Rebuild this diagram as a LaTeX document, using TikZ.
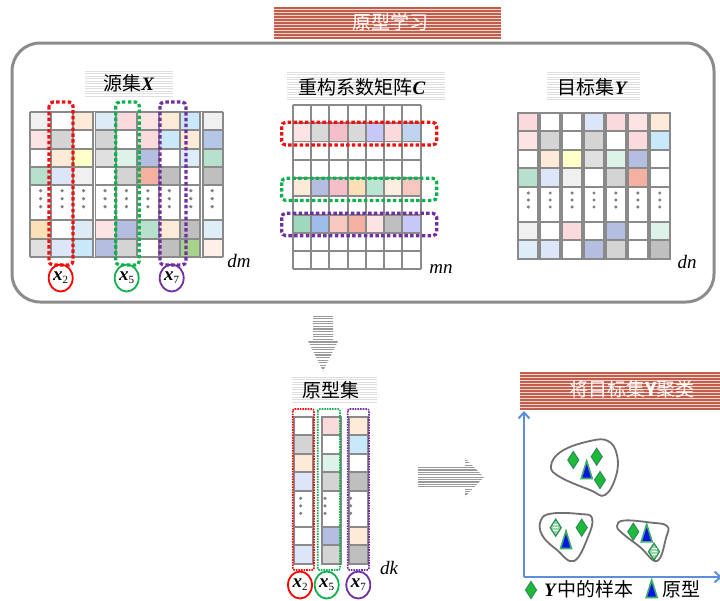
\documentclass[tikz,border=0pt]{standalone}
\usepackage{fontspec}
\setmainfont{Liberation Serif}
\newfontfamily\cjk{Noto Sans CJK SC}
\usetikzlibrary{arrows.meta,shapes.geometric}

\definecolor{qgA}{HTML}{F0F0F0}
\definecolor{qgB}{HTML}{D4D4D4}
\definecolor{qgC}{HTML}{BFBFBF}
\definecolor{qgD}{HTML}{E0E0E0}
\definecolor{qpe}{HTML}{FDEBD8}
\definecolor{qlb}{HTML}{DDEBF7}
\definecolor{qlc}{HTML}{DDEEF9}
\definecolor{qpk}{HTML}{FADADD}
\definecolor{qpl}{HTML}{FCE4E4}
\definecolor{qsk}{HTML}{C9E8FA}
\definecolor{qbl}{HTML}{B4C7E7}
\definecolor{qye}{HTML}{FFFFC8}
\definecolor{qmi}{HTML}{DDF2E8}
\definecolor{qla}{HTML}{B4BEE0}
\definecolor{qgr}{HTML}{B7E1CD}
\definecolor{qsa}{HTML}{F4B0A0}
\definecolor{qor}{HTML}{FCE0B8}
\definecolor{qlg}{HTML}{A9D18E}
\definecolor{qlv}{HTML}{DCE6F8}
\definecolor{qpf}{HTML}{FDF0E8}
\definecolor{qrp}{HTML}{F4BFC8}
\definecolor{qvi}{HTML}{C8C8F8}
\definecolor{qcb}{HTML}{C0D4F0}
\definecolor{qgg}{HTML}{D9D9D9}
\definecolor{qmg}{HTML}{B7E6D2}
\definecolor{qpg}{HTML}{FDEFE0}
\definecolor{qsr}{HTML}{F8C8C0}
\definecolor{qtg}{HTML}{9ED9BE}
\definecolor{qbb}{HTML}{9EBDEA}
\definecolor{qline}{HTML}{8A8A8A}
\definecolor{qdot}{HTML}{808080}
\definecolor{qframe}{HTML}{8C8C8C}
\definecolor{qred}{HTML}{C45E4C}
\definecolor{qbanbg}{HTML}{F4D8D0}
\definecolor{qarrow}{HTML}{9A9A9A}
\definecolor{qaxis}{HTML}{5B8FDB}
\definecolor{qclus}{HTML}{707070}
\definecolor{qgreen}{HTML}{1DBA3A}
\definecolor{qdg}{HTML}{2E8B57}
\definecolor{qblue}{HTML}{0A14E6}
\definecolor{qtb}{HTML}{3DAE6A}
\definecolor{qlgreen}{HTML}{8FDCA0}
\definecolor{qboxred}{HTML}{F01010}
\definecolor{qboxgreen}{HTML}{10B050}
\definecolor{qboxpurple}{HTML}{7030A0}

\newcommand{\hstripes}[6]{%
  \pgfmathsetmacro{\ysecond}{#2+#6}%
  \foreach \yy in {#2,\ysecond,...,#4}{\draw[#5] (#1,\yy) -- (#3,\yy);}%
}

\begin{document}
\begin{tikzpicture}[x=1pt,y=-1pt,
  gridl/.style={qline,line width=1.9pt},
  thickdot/.style={line width=3.2pt,dash pattern=on 3.5pt off 2.3pt,rounded corners=4pt},
  thindot/.style={line width=1.6pt,densely dotted,rounded corners=2pt},
  circ/.style={ellipse,draw,line width=1.8pt,minimum width=24pt,minimum height=27pt,inner sep=0pt,font=\fontsize{19}{19}\selectfont},
  lbl/.style={font=\fontsize{19}{21}\selectfont,inner sep=0pt},
  dimtext/.style={font=\fontsize{19}{21}\selectfont\itshape,inner sep=0pt},
  bantext/.style={font=\cjk\fontsize{19}{21}\selectfont,text=white,inner sep=0pt},
  axis/.style={qaxis,line width=2pt,-{Straight Barb[length=6pt,width=11pt,line width=2pt]}},
  clus/.style={qclus,line width=1.8pt},
  gdia/.pic={\draw[qdg,fill=qgreen,line width=1pt] (0,-8.5) -- (5.5,0) -- (0,8.5) -- (-5.5,0) -- cycle;},
  sdia/.pic={\draw[qdg,fill=qlgreen,line width=1.2pt] (0,-8.5) -- (5.5,0) -- (0,8.5) -- (-5.5,0) -- cycle;
             \foreach \k in {-3,0,3}{\draw[white,line width=1pt] (-2.5,\k) -- (2.5,\k);}},
  ptri/.pic={\draw[qtb,fill=qblue,line width=1.6pt,line join=miter] (-5.5,8.5) -- (0,-9) -- (5.5,8.5) -- cycle;}
]
\useasboundingbox (0,0) rectangle (720,600);
\fill[white] (0,0) rectangle (720,600);

% ---------- big frame ----------
\draw[line width=3pt,qframe,rounded corners=28pt] (12,43) rectangle (714,302);

% ---------- top banner ----------
\fill[qbanbg] (274,7) rectangle (501,39);
\hstripes{274}{8}{501}{39}{qred,line width=1.3pt}{3}
\node[bantext] (ban1) at (390,22) {原型学习};

% ---------- label backgrounds ----------
\hstripes{85}{71}{173}{98}{gray!25,line width=0.6pt}{2.5}
\hstripes{287}{72}{445}{100}{gray!25,line width=0.6pt}{2.5}
\hstripes{547}{72}{640}{100}{gray!25,line width=0.6pt}{2.5}
\hstripes{292}{377}{377}{403}{gray!25,line width=0.6pt}{2.5}

\node[lbl] (labX) at (129,83) {{\cjk 源集}\textbf{\textit{X}}};
\node[lbl] (labC) at (362,87) {{\cjk 重构系数矩阵}\textbf{\textit{C}}};
\node[lbl] (labY) at (593,87) {{\cjk 目标集}\textbf{\textit{Y}}};
\node[lbl] (labP) at (331,390) {{\cjk 原型集}};

% ---------- source X ----------
\foreach \rowc/\yt in {
{qgA,white,qpe,qlb,qpk,qpl,qpe,qsk,qgA}/112,
{qpl,qgB,white,qgB,white,qpk,qsk,qpe,qbl}/130.3,
{white,qpe,qye,qgD,qmi,qla,white,qlc,qgr}/148.7,
{qgr,qlv,qgA,white,qgB,qsa,qgC,white,qgC}/167,
{qor,white,qlb,qpl,qla,qgr,qpe,qgC,qlc}/220.3,
{qgD,qlv,qsk,qla,qgB,white,qgC,qlg,qpf}/238.7}
{\foreach \cc [count=\i from 0] in \rowc {\fill[\cc] ({30+\i*21.44},\yt) rectangle ++(21.44,18.3);}}
\foreach \i in {0,...,8}{\foreach \d in {-8,0,8}{\fill[qdot] ({40.7+\i*21.44},{198.7+\d}) circle (1.8);}}
\foreach \yy in {112,130.3,148.7,167,185.3,220.3,238.7,257}{\draw[gridl] (30,\yy) -- (223,\yy);}
\foreach \i in {0,...,9}{\draw[gridl] ({30+\i*21.44},112) -- ({30+\i*21.44},257);}
\foreach \i in {3,8}{\draw[qline,line width=4.2pt] ({30+\i*21.44},112) -- ({30+\i*21.44},257);
  \draw[white,line width=1.2pt] ({30+\i*21.44},112) -- ({30+\i*21.44},257);}

\draw[thickdot,qboxred] (49,102) rectangle (73,265);
\draw[thickdot,qboxgreen] (115.7,102) rectangle (139.3,265);
\draw[thickdot,qboxpurple] (160,102) rectangle (186,265);

\node[circ,draw=red] (sx2) at (60.7,278) {\textbf{\textit{x}}\raisebox{-3pt}{\fontsize{11}{11}\selectfont 2}};
\node[circ,draw=qboxgreen] (sx5) at (126.7,278) {\textbf{\textit{x}}\raisebox{-3pt}{\fontsize{11}{11}\selectfont 5}};
\node[circ,draw=qboxpurple] (sx7) at (171.7,278) {\textbf{\textit{x}}\raisebox{-3pt}{\fontsize{11}{11}\selectfont 7}};
\node[dimtext] (dm) at (239,261) {dm};

% ---------- matrix C ----------
\foreach \rowc/\yt in {
{qpl,qgg,qrp,qgg,qvi,qpk,qcb}/123.26,
{qpe,qla,qrp,qor,qmg,qpg,qsr}/178.04,
{qtg,qbb,qsr,qsa,qpl,qgC,qvi}/214.56}
{\foreach \cc [count=\i from 0] in \rowc {\fill[\cc] ({292.7+\i*18.29},\yt) rectangle ++(18.29,18.26);}}
\foreach \j in {0,...,9}{\draw[gridl] (292.7,{105+\j*18.26}) -- (420.7,{105+\j*18.26});}
\foreach \i in {0,...,7}{\draw[gridl] ({292.7+\i*18.29},105) -- ({292.7+\i*18.29},269.3);}
\draw[thickdot,qboxred] (281.7,122.3) rectangle (436.7,145);
\draw[thickdot,qboxgreen] (281.7,178.3) rectangle (436.7,200.5);
\draw[thickdot,qboxpurple] (281.7,213.3) rectangle (436.7,235.7);
\node[dimtext] (mn) at (441,269) {mn};

% ---------- target Y ----------
\foreach \rowc/\yt in {
{qpk,white,white,qlv,qpk,qpl,qpe}/112.7,
{qpl,qgB,white,qgB,white,qpk,qsk}/131.2,
{white,qpe,qye,qgD,qmi,qla,white}/149.7,
{qgr,qlv,qgA,white,qgB,qsa,white}/168.2,
{qgA,white,qpk,white,qla,white,qmi}/221.7,
{qlc,qlv,white,qla,qgB,white,qgC}/240.2}
{\foreach \cc [count=\i from 0] in \rowc {\fill[\cc] ({518.3+\i*21.9},\yt) rectangle ++(20,18.5);}}
\foreach \i in {0,...,6}{
  \pgfmathsetmacro{\colx}{518.3+\i*21.9}
  \foreach \yy in {131.2,149.7,168.2,186.7,221.7,240.2}{\draw[gridl] (\colx,\yy) -- ++(20,0);}
  \draw[gridl] (\colx,112.7) rectangle ++(20,146);
  \foreach \d in {-7,0,7}{\fill[qdot] ({\colx+10},{200+\d}) circle (1.7);}
}
\node[dimtext] (dn) at (687,262) {dn};

% ---------- arrows ----------
\begin{scope}
\clip (313,316) -- (333,316) -- (333,340) -- (338.5,340) -- (323,371) -- (307.5,340) -- (313,340) -- cycle;
\hstripes{305}{316}{341}{372}{qarrow,line width=1.3pt}{2.6}
\end{scope}
\begin{scope}
\clip (418,467) -- (465,467) -- (465,458) -- (484,477) -- (465,496.7) -- (465,487) -- (418,487) -- cycle;
\hstripes{415}{458}{486}{498}{qarrow,line width=1.2pt}{2.4}
\end{scope}

% ---------- prototypes ----------
\foreach \colx/\dx/\cols in {294/6.7/{white,qgB,qpe,qlv,white,qlv}, 321.7/3.3/{qpk,white,qmi,qgB,qla,qgB}, 349.2/1.5/{qpe,qsk,white,qgC,qpe,qgC}}{
  \foreach \cc [count=\j from 0] in \cols {
    \pgfmathsetmacro{\yt}{{416.7,435.2,453.7,472.2,526.7,545.2}[\j]}
    \fill[\cc] (\colx,\yt) rectangle ++(19,18.5);}
  \foreach \yy in {435.2,453.7,472.2,490.7,526.7,545.2}{\draw[gridl] (\colx,\yy) -- ++(19,0);}
  \draw[gridl] (\colx,416.7) rectangle ++(19,147);
  \foreach \d in {-7.5,0,7.5}{\fill[qdot] ({\colx+\dx},{505.8+\d}) circle (1.7);}
}
\draw[thindot,qboxred] (292.7,409) rectangle (314,570);
\draw[thindot,qboxgreen] (317.7,409) rectangle (340,570);
\draw[thindot,qboxpurple] (347.7,409) rectangle (369,570);
\node[circ,draw=red] (px2) at (300,585) {\textbf{\textit{x}}\raisebox{-3pt}{\fontsize{11}{11}\selectfont 2}};
\node[circ,draw=qboxgreen] (px5) at (326.7,585) {\textbf{\textit{x}}\raisebox{-3pt}{\fontsize{11}{11}\selectfont 5}};
\node[circ,draw=qboxpurple] (px7) at (358.3,585) {\textbf{\textit{x}}\raisebox{-3pt}{\fontsize{11}{11}\selectfont 7}};
\node[dimtext] (dk) at (389,568) {dk};

% ---------- clustering panel ----------
\fill[qbanbg] (520,372) rectangle (720,409);
\hstripes{520}{373}{720}{409}{qred,line width=1.3pt}{3}
\node[bantext] (ban2) at (632,389) {将目标集\textbf{\textit{Y}}聚类};

\coordinate (orig) at (524,577);
\coordinate (ytip) at (524,411);
\coordinate (xtip) at (722,577);
\draw[axis] (orig) -- (ytip);
\draw[axis] (orig) -- (xtip);

\draw[clus] plot[smooth cycle,tension=0.7] coordinates {(551,466) (562,451) (590,441) (608,441) (617,455) (616,476) (605,495) (590,490) (560,477)};
\draw[clus] plot[smooth cycle,tension=0.7] coordinates {(541,520) (552,513.5) (580,514) (592,518) (588,537) (574,561) (557,550) (542,535)};
\draw[clus] plot[smooth cycle,tension=0.7] coordinates {(617,526) (624,520.5) (650,522.5) (667,526) (666,538) (657,561) (640,547) (622,533)};

\path (573.3,460) pic {gdia};
\path (596.7,456.7) pic {gdia};
\path (600,480) pic {gdia};
\path (586.7,470) pic {ptri};

\path (555.7,527.7) pic {sdia};
\path (581.7,527.7) pic {gdia};
\path (566,540) pic {ptri};

\path (633.3,531.7) pic {gdia};
\path (646.7,533.3) pic {ptri};
\path (654,551.7) pic {sdia};

% legend
\path (531,590) pic {gdia};
\node[lbl,anchor=west] (leg1) at (544,589) {\textbf{\textit{Y}}{\cjk 中的样本}};
\path (651.7,589) pic {ptri};
\node[lbl,anchor=west] (leg2) at (662,589) {{\cjk 原型}};
\end{tikzpicture}
\end{document}
